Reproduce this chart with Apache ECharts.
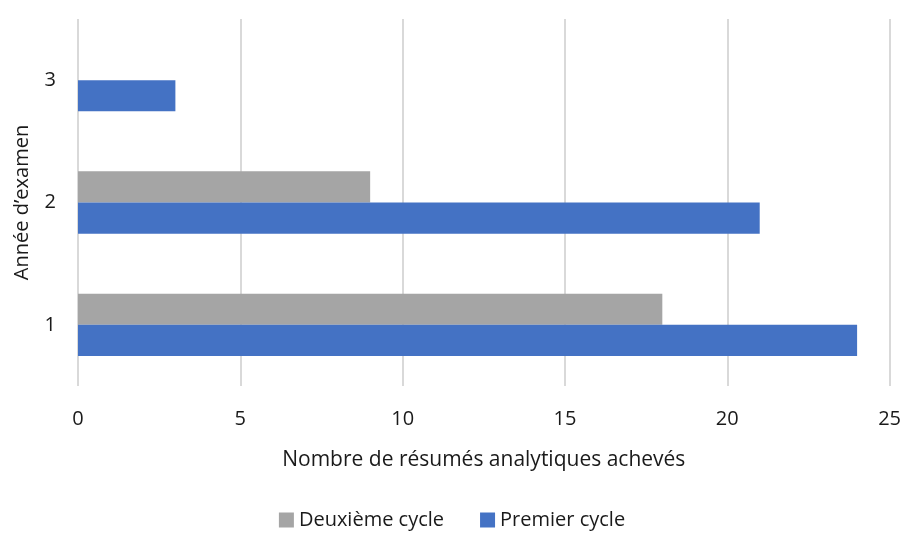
<!DOCTYPE html>
<html>
<head>
<meta charset="utf-8">
<script src="https://cdn.jsdelivr.net/npm/echarts@6/dist/echarts.min.js"></script>
<style>
    html,body{margin:0;padding:0;background:#fff;}
    #main{width:904px;height:535px;}
</style>
</head>
<body>
<div id="main"></div>
<script>
var years=['1','2','3'];
var premierCycle=[24,21,3];
var deuxiemeCycle=[18,9,0];
var xTicks={min:0,max:25,interval:5};

var font='Open Sans';
var myChart=echarts.init(document.getElementById('main'));
var option={
    textStyle:{fontFamily:font},
    legend:{
        data:['Deuxième cycle','Premier cycle'],
        bottom:0,
        left:'center',
        itemWidth:15,
        itemHeight:15,
        itemGap:36,
        itemStyle:{borderWidth:0},
        icon:'rect',
        textStyle:{fontFamily:font,fontSize:20,color:'#1a1a1a'}
    },
    grid:{left:78,right:12,top:19,bottom:149},
    xAxis:{
        type:'value',
        min:xTicks.min,
        max:xTicks.max,
        interval:xTicks.interval,
        name:'Nombre de résumés analytiques achevés',
        nameLocation:'middle',
        nameGap:64,
        nameTextStyle:{fontFamily:font,fontSize:21,color:'#1a1a1a'},
        axisLine:{show:false},
        axisTick:{show:false},
        axisLabel:{margin:23,fontFamily:font,fontSize:20,color:'#1a1a1a'},
        splitLine:{lineStyle:{color:'#d9d9d9',width:2}}
    },
    yAxis:{
        type:'category',
        data:years,
        name:'Année d’examen',
        nameLocation:'middle',
        nameGap:46,
        nameTextStyle:{fontFamily:font,fontSize:20,color:'#1a1a1a'},
        axisLine:{show:false},
        axisTick:{show:false},
        axisLabel:{margin:22,fontFamily:font,fontSize:20,color:'#1a1a1a'}
    },
    series:[
        {
            name:'Deuxième cycle',
            type:'bar',
            data:deuxiemeCycle,
            itemStyle:{color:'#a5a5a5'},
            barGap:0,
            barCategoryGap:'49%'
        },
        {
            name:'Premier cycle',
            type:'bar',
            data:premierCycle,
            itemStyle:{color:'#4472c4'},
            barGap:0,
            barCategoryGap:'49%'
        }
    ]
};
myChart.setOption(option);
</script>
</body>
</html>
